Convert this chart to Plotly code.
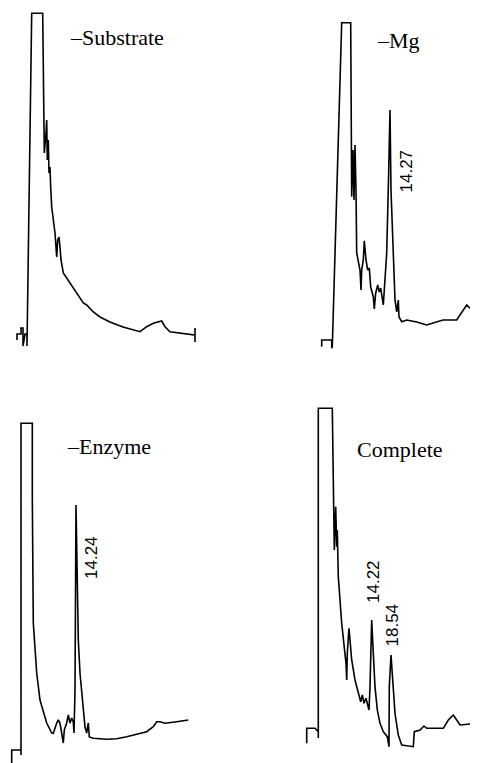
import plotly.graph_objects as go

W, H = 478, 763
PAD = 8  # page body margin of the viewer

# ---- data: retention position (chart units) and detector response, per panel ----
sub_t = [17, 17, 21, 21, 23, 23, 25, 27, 27, 31.7, 42.7, 43.3, 44.3, 46, 46.7, 47.3, 48.3, 49, 50,
         50.7, 51.7, 55, 56.7, 57.7, 59, 60, 61, 63.3, 70, 80, 83.3, 86.7, 93.3, 100, 110, 123,
         136.7, 140, 146.7, 153.3, 161.7, 165, 170, 180, 195, 195, 195]
sub_r = [42, 48, 48, 54, 54, 36, 48, 48, 36, 368.7, 368.7, 282, 229, 249, 262, 222, 242, 209, 215,
         195, 175, 149, 125, 142, 145, 135, 122, 109, 99, 85, 79, 77, 70, 65, 60, 55,
         51, 50.3, 55.3, 58.7, 61, 55.3, 50.3, 48.7, 47, 54, 40]

mg_t = [82.7, 82.7, 92.7, 92.7, 93.3, 102.7, 111.7, 112.7, 114, 115, 116, 117, 117.7, 121, 122,
        122.7, 124.3, 125.3, 127, 128.7, 130.3, 131.7, 134.3, 135.3, 136.7, 138.7, 140.3, 141.7,
        143.3, 144.3, 145.3, 147.7, 149.5, 151, 152, 154.3, 156, 157.7, 159.3, 160, 162.7, 167.7,
        177.7, 187.7, 197.7, 204, 217.7, 224, 227.7, 231, 237.7]
mg_r = [35.3, 42, 42, 33.7, 35.3, 359.3, 359.3, 185.3, 232, 182, 237, 192, 129, 112, 92,
        112, 122, 141.3, 122, 112, 114, 95, 85.3, 73, 89, 97, 90, 94,
        85, 77, 92, 129, 202, 272, 192, 115, 82, 70, 82, 65, 60.3, 62,
        60, 57, 60, 62, 62, 72, 77, 74, 70]

enz_t = [11.7, 11.7, 21, 21, 21, 32.3, 32.3, 33.3, 36.7, 40, 46.7, 51.7, 53.3, 56.7, 58.3, 60,
         61.7, 63.3, 64.3, 66.7, 68.3, 70, 71.7, 73.3, 74, 75, 76, 77.3, 78.3, 80, 83.3, 85, 86.7,
         88.3, 89.3, 93.3, 106.7, 116.7, 126.7, 140, 146.7, 153.3, 156.7, 160, 165, 176.7, 188.3]
enz_r = [0, 13, 13, 8, 339.7, 339.7, 266.3, 140, 90, 63, 40, 30, 29.7, 40, 43, 40,
         30, 20, 33, 40, 48, 40, 45, 41, 30, 73, 258, 173, 123, 90, 53, 36, 30,
         40, 26, 24.7, 23.7, 24.3, 26.3, 29.7, 31.3, 36.3, 41.3, 41.3, 39.7, 41.3, 43]

comp_t = [67.7, 67.7, 76, 79.3, 79.3, 79.3, 93.3, 94.3, 95.3, 96.7, 97.7, 98.3, 99.3, 102.7, 105,
          107, 107.7, 108.3, 110, 111, 112.7, 116, 119.3, 121.7, 123.3, 125, 127, 128.7, 130, 131,
          132.7, 134.3, 136, 138.3, 141, 144.3, 148.3, 150, 150.3, 152, 153.7, 156, 159.3, 162.7,
          174.3, 175.3, 181, 185, 187.7, 204.3, 209.3, 214.3, 217.7, 221, 237.7]
comp_r = [19.7, 34.7, 34.7, 31.3, 25, 354.7, 354.7, 273, 213, 256.3, 216.3, 233, 186.3, 139.7, 120,
          99.7, 83, 109.7, 134.7, 123, 103, 83, 69.7, 61.3, 68, 59.7, 64.7, 58, 53, 76.3,
          143, 109.7, 76.3, 53, 39.7, 31.3, 26.3, 16.3, 76.3, 108, 86.3, 49.7, 28, 18,
          16.3, 31.3, 33, 37, 34.7, 34.7, 43, 48, 43, 38, 39.7]

panel_titles = ["–Substrate", "–Mg", "–Enzyme", "Complete"]
title_pos = [(68, 345), (136, 342), (65, 317), (116, 314)]
peak_labels = [[], [("14.27", 167, 210.5)], [("14.24", 91.5, 205.5)],
               [("14.22", 134.5, 181.5), ("18.54", 152.5, 138)]]

series = [(sub_t, sub_r), (mg_t, mg_r), (enz_t, enz_r), (comp_t, comp_r)]

FW, FH = W - PAD, H - PAD
mid_x = 239 - PAD
mid_y = 382 - PAD
# (x-domain, x-range, y-domain, y-range) for each panel
boxes = [
    ([0, mid_x / FW], [PAD, 239], [1 - mid_y / FH, 1], [0, 382 - PAD]),
    ([mid_x / FW, 1], [0, 239], [1 - mid_y / FH, 1], [0, 382 - PAD]),
    ([0, mid_x / FW], [PAD, 239], [0, 1 - mid_y / FH], [0, 381]),
    ([mid_x / FW, 1], [0, 239], [0, 1 - mid_y / FH], [0, 381]),
]

fig = go.Figure()
layout = dict(width=FW, height=FH, margin=dict(l=0, r=0, t=0, b=0),
              paper_bgcolor="white", plot_bgcolor="white", showlegend=False)
annotations = []
for i, ((t, r), (xd, xr, yd, yr)) in enumerate(zip(series, boxes)):
    n = "" if i == 0 else str(i + 1)
    fig.add_trace(go.Scatter(x=t, y=r, mode="lines", xaxis="x" + n, yaxis="y" + n,
                             line=dict(color="black", width=1.6), hoverinfo="skip",
                             cliponaxis=False))
    layout["xaxis" + n] = dict(domain=xd, range=xr, visible=False, anchor="y" + n)
    layout["yaxis" + n] = dict(domain=yd, range=yr, visible=False, anchor="x" + n)
    tx, ty = title_pos[i]
    annotations.append(dict(x=tx, y=ty, xref="x" + n, yref="y" + n, text=panel_titles[i],
                            showarrow=False, xanchor="left", yanchor="middle",
                            font=dict(family="Liberation Serif", size=22, color="black")))
    for lab, lx, ly in peak_labels[i]:
        annotations.append(dict(x=lx, y=ly, xref="x" + n, yref="y" + n, text=lab,
                                showarrow=False, textangle=-90, xanchor="center", yanchor="middle",
                                font=dict(family="Liberation Sans", size=17, color="black")))
layout["annotations"] = annotations
fig.update_layout(**layout)
fig.write_html("out.html")
